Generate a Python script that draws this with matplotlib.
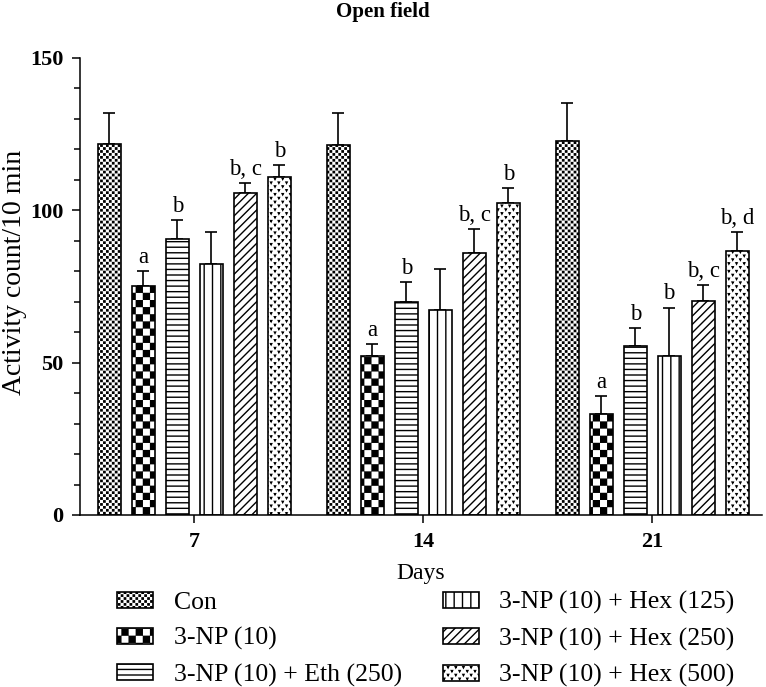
import numpy as np
import matplotlib
matplotlib.use('Agg')
import matplotlib.pyplot as plt
from matplotlib import hatch as mhatch
from matplotlib.path import Path

# Data
days = ['7', '14', '21']
groups = ['Con', '3-NP (10)', '3-NP (10) + Eth (250)', '3-NP (10) + Hex (125)',
          '3-NP (10) + Hex (250)', '3-NP (10) + Hex (500)']
con = [121.8, 121.4, 122.7]
np10 = [75.3, 52.2, 33.1]
eth250 = [90.5, 69.9, 55.6]
hex125 = [82.5, 67.3, 52.3]
hex250 = [105.6, 86.1, 70.3]
hex500 = [110.9, 102.4, 86.6]
con_err = [10.2, 10.5, 12.4]
np10_err = [4.9, 3.9, 5.9]
eth250_err = [6.3, 6.7, 5.9]
hex125_err = [10.3, 13.4, 15.8]
hex250_err = [3.3, 7.9, 5.2]
hex500_err = [3.9, 4.8, 6.2]
con_sig = ['', '', '']
np10_sig = ['a', 'a', 'a']
eth250_sig = ['b', 'b', 'b']
hex125_sig = ['', '', 'b']
hex250_sig = ['b, c', 'b, c', 'b, c']
hex500_sig = ['b', 'b', 'b, d']


# custom hatches: checkerboards ('k' coarse, 'q' fine) and small marks ('v')
class CheckerHatch(mhatch.HatchPatternBase):
    def __init__(self, hatch, density):
        self.n = 14 if 'k' in hatch else (34 if 'q' in hatch else 0)
        self.d = 0.006 if 'k' in hatch else 0.008
        self.num_vertices = (self.n * self.n // 2) * 5

    def set_vertices_and_codes(self, vertices, codes):
        n = self.n
        s = 1.0 / n
        d = self.d
        sq = np.array([[d, d], [s - d, d], [s - d, s - d], [d, s - d], [d, d]])
        cells = [(i, j) for i in range(n) for j in range(n) if (i + j) % 2 == 0]
        vertices[:] = np.concatenate([sq + [i * s, j * s] for i, j in cells])
        codes[:] = np.tile([Path.MOVETO, Path.LINETO, Path.LINETO,
                            Path.LINETO, Path.CLOSEPOLY], len(cells))


class MarkHatch(mhatch.HatchPatternBase):
    def __init__(self, hatch, density):
        self.n = 26 if 'v' in hatch else 0
        self.pts = []
        for r in range(self.n):
            for c in range(self.n // 2):
                x = (2 * c + (r % 2)) / self.n + 0.5 / self.n
                y = r / self.n + 0.5 / self.n
                self.pts.append((x, y))
        self.num_vertices = len(self.pts) * 4

    def set_vertices_and_codes(self, vertices, codes):
        h = 0.006
        tri = np.array([[-h, h], [h, h], [0, -h], [-h, h]])
        vertices[:] = np.concatenate([tri + p for p in self.pts])
        codes[:] = np.tile([Path.MOVETO, Path.LINETO, Path.LINETO,
                            Path.CLOSEPOLY], len(self.pts))


mhatch._hatch_types.append(CheckerHatch)
mhatch._hatch_types.append(MarkHatch)
mhatch._validate_hatch_pattern = lambda h: None

plt.rcParams['font.family'] = ['Liberation Serif', 'DejaVu Serif']
plt.rcParams['hatch.linewidth'] = 1.0
plt.rcParams['hatch.color'] = 'black'

values = [con, np10, eth250, hex125, hex250, hex500]
errors = [con_err, np10_err, eth250_err, hex125_err, hex250_err, hex500_err]
sigs = [con_sig, np10_sig, eth250_sig, hex125_sig, hex250_sig, hex500_sig]
hatches = ['q', 'k', '---', '||', '////', 'v']

fig = plt.figure(figsize=(7.66, 6.87), dpi=100)
ax = fig.add_axes([0.1044, 0.2504, 0.8905, 0.6652])

x = np.arange(len(days))
pitch = 0.1485
width = 0.102
for k in range(len(groups)):
    xs = x + (k - 2.5) * pitch
    ax.bar(xs, values[k], width, color='white', edgecolor='black',
           linewidth=1.2, hatch=hatches[k], label=groups[k], zorder=2)
    ax.errorbar(xs, values[k], yerr=[np.zeros(3), errors[k]], fmt='none',
                ecolor='black', elinewidth=1.2, capsize=4.2, capthick=1.2,
                zorder=1)
    for xi, v, e, s in zip(xs, values[k], errors[k], sigs[k]):
        if s:
            ax.text(xi, v + e + 1.0, s, ha='center', va='bottom', fontsize=16.5)

ax.set_xlim(-0.5, 2.48)
ax.set_ylim(0, 150)
ax.set_yticks([0, 50, 100, 150])
ax.set_yticks(np.arange(0, 151, 10), minor=True)
ax.set_xticks(x)
ax.set_xticklabels(days)
for lab in ax.get_xticklabels() + ax.get_yticklabels():
    lab.set_fontweight('bold')
ax.tick_params(axis='both', which='major', labelsize=16, width=1.1, length=6, pad=6)
ax.tick_params(axis='y', which='minor', width=1.1, length=4)
ax.tick_params(axis='x', which='minor', bottom=False)
for side in ['top', 'right']:
    ax.spines[side].set_visible(False)
for side in ['left', 'bottom']:
    ax.spines[side].set_linewidth(1.1)

ax.set_xlabel('Days', fontsize=17, labelpad=8.5)
ax.set_ylabel('Activity count/10 min', fontsize=20)
ax.yaxis.set_label_coords(-0.077, 0.53)
fig.text(0.5, 0.983, 'Open field', ha='center', va='center',
         fontsize=15, fontweight='bold')

fig.legend(loc='upper left', bbox_to_anchor=(117 / 766, 1 - 591 / 687),
           ncol=2, frameon=False, fontsize=18.5, handlelength=1.4,
           handleheight=0.58, handletextpad=0.8, columnspacing=1.6,
           labelspacing=0.52, borderpad=0, borderaxespad=0)

fig.savefig('out.png', dpi=100)
